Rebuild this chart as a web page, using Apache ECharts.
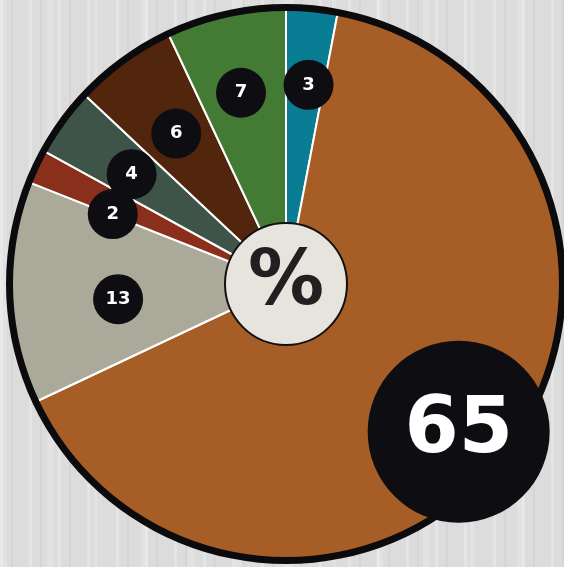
<!DOCTYPE html>
<html>
<head>
<meta charset="utf-8">
<script src="https://cdn.jsdelivr.net/npm/echarts@6/dist/echarts.min.js"></script>
<style>
  html, body {
    margin: 0;
    padding: 0;
  }
  body {
    background-color: #dcdcdc;
    background-image:
      repeating-linear-gradient(90deg, rgba(255,255,255,0.25) 0 3px, rgba(0,0,0,0) 3px 11px, rgba(0,0,0,0.03) 11px 13px, rgba(0,0,0,0) 13px 29px),
      repeating-linear-gradient(90deg, rgba(255,255,255,0.18) 0 7px, rgba(0,0,0,0) 7px 47px);
  }
  #pie {
    width: 564px;
    height: 567px;
  }
</style>
</head>
<body>
<div id="pie"></div>
<script>
// slices, clockwise from 12 o'clock
const categories = ['A', 'B', 'C', 'D', 'E', 'F', 'G']
const shares = [3, 65, 13, 2, 4, 6, 7]
const colors = ['#087d94', '#a65e26', '#aba99a', '#8a2f1b', '#3e5449', '#52260c', '#437b34']

// small nudges for the number badges [dx, dy]
const badgeNudge = {
  A: [4, -3],
  B: [17, 27],
  C: [29, 9],
  D: [5, 14],
  E: [5, 6],
  F: [6, 9],
  G: [-2, 1]
}

const center = [286, 284]
const maxShare = Math.max.apply(null, shares)

const sliceData = categories.map((name, i) => ({
  name: name,
  value: shares[i],
  itemStyle: { color: colors[i] }
}))

const badgeData = categories.map((name, i) => {
  const big = shares[i] === maxShare
  const size = big ? 182 : 50
  return {
    name: name,
    value: shares[i],
    label: {
      offset: badgeNudge[name],
      width: size,
      height: size,
      lineHeight: size,
      borderRadius: size / 2,
      fontSize: big ? 78 : 18
    }
  }
})

const myChart = echarts.init(document.getElementById('pie'), null, { renderer: 'canvas' })

const option = {
  animation: false,
  series: [
    {
      // coloured slices
      type: 'pie',
      center: center,
      radius: [0, 276],
      silent: true,
      label: { show: false },
      labelLine: { show: false },
      itemStyle: {
        borderColor: '#ffffff',
        borderWidth: 2
      },
      data: sliceData
    },
    {
      // black rim
      type: 'pie',
      center: center,
      radius: [273, 280],
      silent: true,
      label: { show: false },
      labelLine: { show: false },
      itemStyle: { color: '#0b0a0d' },
      data: [{ value: 1, name: 'rim' }]
    },
    {
      // middle disc with %
      type: 'pie',
      center: center,
      radius: [0, 61],
      silent: true,
      labelLine: { show: false },
      itemStyle: {
        color: '#e7e3dd',
        borderColor: '#111111',
        borderWidth: 2
      },
      label: {
        show: true,
        position: 'center',
        formatter: '%',
        color: '#231f20',
        fontFamily: 'DejaVu Sans',
        fontWeight: 'bold',
        fontSize: 76
      },
      data: [{ value: 1, name: 'pct' }]
    },
    {
      // number badges, laid out by the same angles
      type: 'pie',
      center: center,
      radius: [0, 388],
      silent: true,
      z: 10,
      avoidLabelOverlap: false,
      labelLayout: { hideOverlap: false },
      labelLine: { show: false },
      itemStyle: { color: 'rgba(0,0,0,0)' },
      label: {
        show: true,
        position: 'inside',
        formatter: '{c}',
        color: '#ffffff',
        fontFamily: 'DejaVu Sans',
        fontWeight: 'bold',
        backgroundColor: '#0e0d11',
        align: 'center',
        verticalAlign: 'middle',
        padding: 0
      },
      data: badgeData
    }
  ]
}

myChart.setOption(option)

window.addEventListener('resize', () => { myChart.resize() })
</script>
</body>
</html>
